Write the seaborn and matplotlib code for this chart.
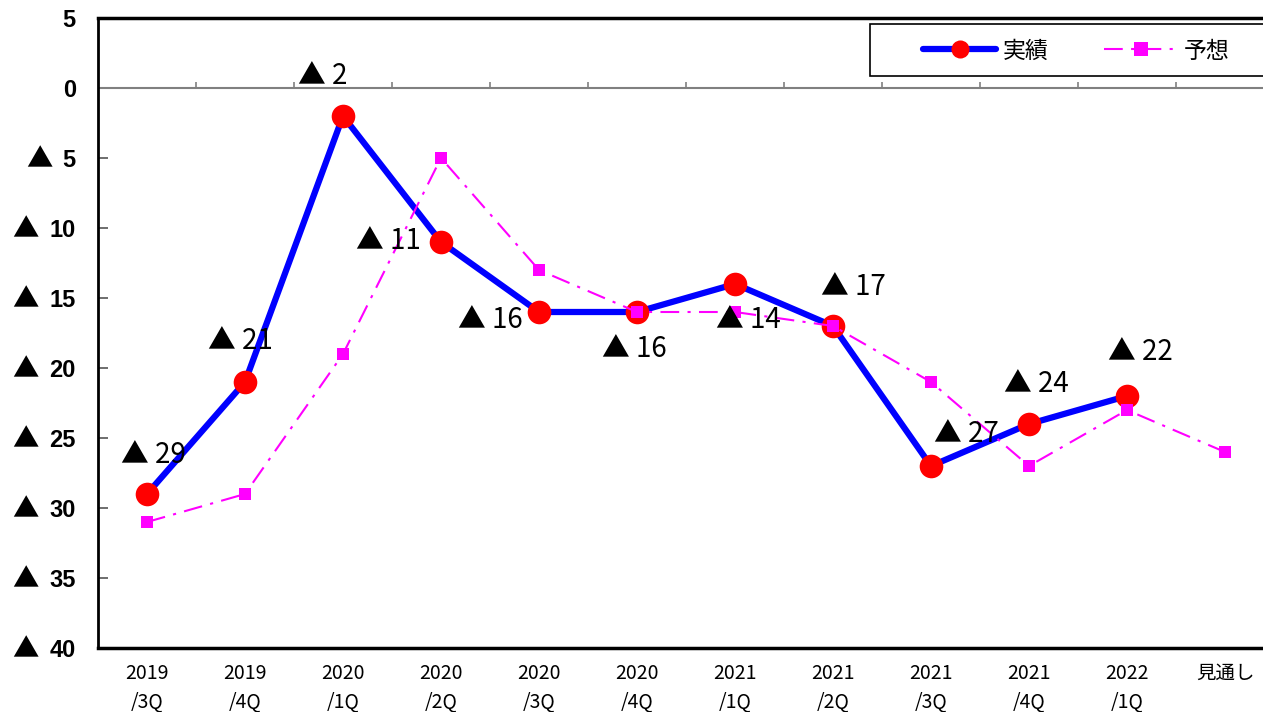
import matplotlib
matplotlib.use("Agg")
import matplotlib.pyplot as plt
import matplotlib.transforms as mtransforms
from matplotlib.patches import Rectangle
import seaborn as sns
import pandas as pd
import numpy as np

sns.set_theme(style="white")
plt.rcParams["font.family"] = ["Noto Sans CJK JP", "DejaVu Sans"]
plt.rcParams["text.color"] = "black"
plt.rcParams["xtick.color"] = "black"
plt.rcParams["ytick.color"] = "black"

# Quarterly survey index (negative values shown with ▲)
categories = ["2019\n/3Q", "2019\n/4Q", "2020\n/1Q", "2020\n/2Q", "2020\n/3Q", "2020\n/4Q",
              "2021\n/1Q", "2021\n/2Q", "2021\n/3Q", "2021\n/4Q", "2022\n/1Q", "見通し"]
actual = [-29, -21, -2, -11, -16, -16, -14, -17, -27, -24, -22]
forecast = [-31, -29, -19, -5, -13, -16, -16, -17, -21, -27, -23, -26]
y_ticks = [5, 0, -5, -10, -15, -20, -25, -30, -35, -40]

# label placement around each actual point (offset pixels)
label_offsets = [(6, 39), (-5, 41), (-20, 40), (-53, 1), (-49, -8), (-3, -37),
                 (13, -36), (20, 39), (35, 32), (7, 40), (13, 44)]


def tri_fmt(v):
    v = int(round(v))
    return f"▲ {abs(v)}" if v < 0 else f"{v}"


df_act = pd.DataFrame({"x": np.arange(len(actual)), "y": actual})
df_fc = pd.DataFrame({"x": np.arange(len(forecast)), "y": forecast})

W, H = 1263, 712
fig = plt.figure(figsize=(W / 100, H / 100), dpi=100)
ax = fig.add_axes([98 / W, 64 / H, 1176 / W, 630 / H])

sns.lineplot(data=df_fc, x="x", y="y", ax=ax, color="#FF00FF", lw=1.5,
             linestyle=(0, (9, 4, 1.5, 4)), marker="s", markersize=9,
             markeredgewidth=0, markerfacecolor="#FF00FF", label="予想", sort=False, zorder=3)
sns.lineplot(data=df_act, x="x", y="y", ax=ax, color="#0000FF", lw=4.5,
             marker="o", markersize=17, markeredgewidth=0, markerfacecolor="#FF0000",
             label="実績", sort=False, zorder=2)
if ax.get_legend() is not None:
    ax.get_legend().remove()

# value labels
for i, v in enumerate(actual):
    dx, dy = label_offsets[i]
    ax.annotate(tri_fmt(v), (i, v), xytext=(dx, dy), textcoords="offset pixels",
                ha="center", va="center", fontsize=20, color="black", zorder=5)

ax.set_xlim(-0.5, len(categories) - 0.5)
ax.set_ylim(-40, 5)

# category axis crossing at zero
ax.axhline(0, color="#808080", lw=1.5, zorder=1)
bounds = np.arange(len(categories) + 1) - 0.5
ax.vlines(bounds, 0, 0.4, color="#808080", lw=1.2, zorder=1)

# value axis: digits as tick labels, ▲ drawn in front of negative ones
ax.set_yticks(y_ticks)
ax.set_yticklabels([str(abs(v)) for v in y_ticks], fontsize=17,
                   family=["Liberation Sans"], fontweight="bold")
ax.tick_params(axis="y", direction="in", length=7, width=1.2, color="#555555", pad=16, left=True)
ytrans = mtransforms.blended_transform_factory(ax.transAxes, ax.transData)
for v in y_ticks:
    if v < 0:
        nd = len(str(abs(v)))
        ax.annotate("▲", (0, v), xycoords=ytrans, xytext=(-45 - 14 * nd, -2),
                    textcoords="offset pixels", ha="center", va="center",
                    fontsize=19, color="black", annotation_clip=False)

ax.set_xticks(range(len(categories)))
ax.set_xticklabels(categories, fontsize=14, linespacing=1.45)
ax.tick_params(axis="x", length=0, pad=11)
ax.set_xlabel("")
ax.set_ylabel("")

for side in ["left", "top", "bottom"]:
    ax.spines[side].set_visible(True)
    ax.spines[side].set_color("black")
ax.spines["left"].set_linewidth(2)
ax.spines["top"].set_linewidth(2.5)
ax.spines["bottom"].set_linewidth(2.5)
ax.spines["right"].set_visible(False)
ax.grid(False)

# legend box (frame drawn separately so it can run off the right edge)
fig.add_artist(Rectangle((870 / W, 1 - 76 / H), 420 / W, 52 / H, transform=fig.transFigure,
                         facecolor="white", edgecolor="black", lw=1.2, zorder=9))
handles, labels = ax.get_legend_handles_labels()
order = [labels.index("実績"), labels.index("予想")]
leg = fig.legend([handles[k] for k in order], [labels[k] for k in order],
                 loc="center left", bbox_to_anchor=(923 / W, 1 - 51 / H),
                 bbox_transform=fig.transFigure, ncol=2, fontsize=16.5, frameon=False,
                 handlelength=3.2, columnspacing=2.4, handletextpad=0.3,
                 borderpad=0, borderaxespad=0)
leg.set_zorder(10)
for h in leg.legend_handles:
    if h.get_marker() == "o":
        h.set_markersize(13)
    else:
        h.set_markersize(10)

fig.savefig("out.png", dpi=100)
